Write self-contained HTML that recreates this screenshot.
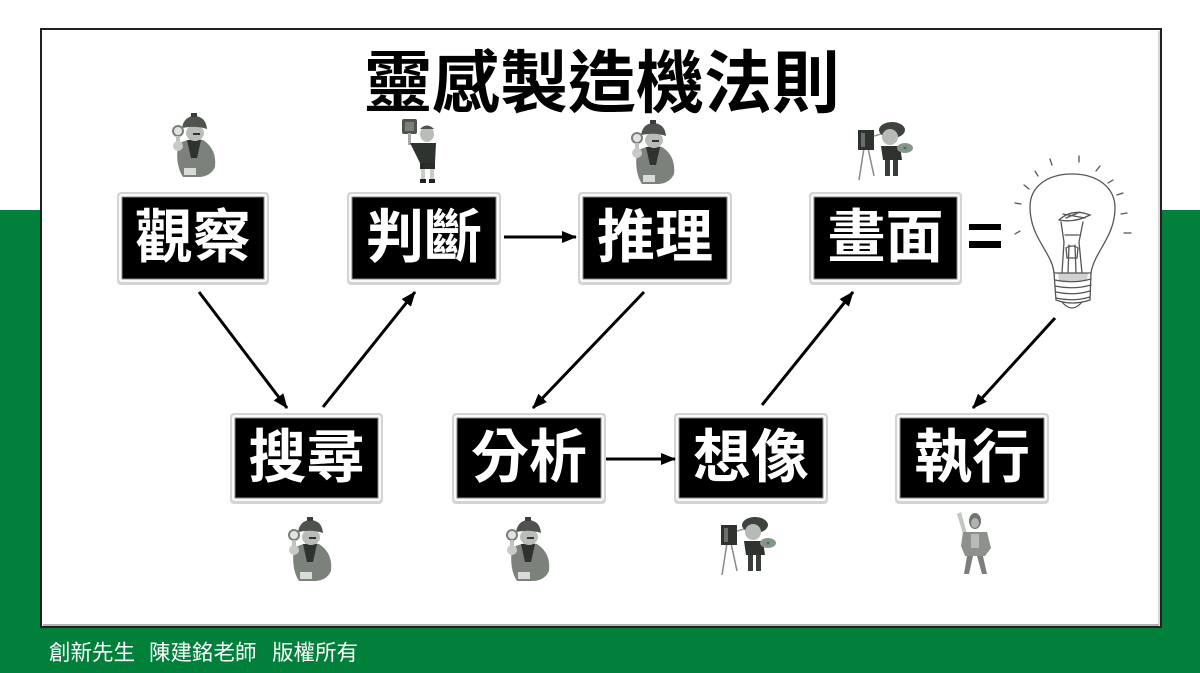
<!DOCTYPE html>
<html><head><meta charset="utf-8">
<style>
html,body{margin:0;padding:0;width:1200px;height:673px;overflow:hidden;background:#fff;}
svg{display:block;}
.cjk{font-family:"Liberation Sans","Noto Sans CJK TC","Noto Sans CJK SC",sans-serif;}
</style></head>
<body>
<svg width="1200" height="673" viewBox="0 0 1200 673" xmlns="http://www.w3.org/2000/svg">
<defs>
<marker id="ah" markerUnits="userSpaceOnUse" markerWidth="15" markerHeight="12" refX="14" refY="6" orient="auto">
<path d="M0,0 L15,6 L0,12 z" fill="#000"/>
</marker>
<g id="det">
  <path d="M8,31 Q20,24 33,27 Q47,36 45,54 Q41,63 30,64 L13,64 Q5,52 8,31z" fill="#7c817c"/>
  <path d="M17,27 L31,27 L27,45 L21,45z" fill="#2f332f"/>
  <ellipse cx="25" cy="20" rx="9" ry="8" fill="#b9bcb9"/>
  <path d="M12,15 Q14,3 25,3 Q36,4 37,16 Q26,12 12,15z" fill="#4e534e"/>
  <rect x="21" y="0" width="6" height="4" fill="#3a3e3a"/>
  <rect x="23" y="20" width="7" height="2" fill="#333"/>
  <circle cx="8" cy="18" r="5" fill="#e2e4e2" stroke="#7a7f7a" stroke-width="2"/>
  <rect x="6" y="23" width="4" height="10" fill="#bfc2bf"/>
  <ellipse cx="8" cy="33" rx="5" ry="5" fill="#c8cac8"/>
  <rect x="14" y="55" width="12" height="7" fill="#d9dbd9"/>
</g>
<g id="painter">
  <line x1="6" y1="28" x2="1" y2="60" stroke="#888" stroke-width="1.5"/>
  <line x1="10" y1="28" x2="16" y2="56" stroke="#888" stroke-width="1.5"/>
  <rect x="0" y="10" width="16" height="20" fill="#2f332f"/>
  <rect x="3" y="13" width="4" height="14" fill="#6a6f6a"/>
  <line x1="16" y1="16" x2="30" y2="12" stroke="#999" stroke-width="1.5"/>
  <ellipse cx="34" cy="10" rx="13" ry="8" fill="#3e433e"/>
  <ellipse cx="32" cy="17" rx="8" ry="8" fill="#b7bab7"/>
  <path d="M23,26 L42,26 L44,40 L25,40z" fill="#2f332f"/>
  <rect x="27" y="40" width="5" height="16" fill="#3a3e3a"/>
  <rect x="35" y="40" width="5" height="16" fill="#3a3e3a"/>
  <ellipse cx="47" cy="28" rx="8" ry="5" fill="#8c918c"/>
  <circle cx="47" cy="28" r="1.5" fill="#0a9a4a"/>
</g>
<g id="boy">
  <rect x="0" y="0" width="15" height="15" rx="2" fill="#4f544f"/>
  <rect x="3" y="3" width="9" height="9" fill="#7a7f7a"/>
  <rect x="6" y="14" width="3" height="12" fill="#aaa"/>
  <ellipse cx="25" cy="15" rx="7" ry="8" fill="#b9bcb9"/>
  <path d="M18,10 Q25,3 32,10z" fill="#4e534e"/>
  <path d="M8,24 L34,24 L33,44 L18,44z" fill="#2f332f"/>
  <rect x="18" y="44" width="15" height="6" fill="#2a2d2a"/>
  <rect x="19" y="50" width="4" height="12" fill="#c9cbc9"/>
  <rect x="28" y="50" width="4" height="12" fill="#c9cbc9"/>
  <rect x="18" y="60" width="6" height="4" fill="#222"/>
  <rect x="27" y="60" width="6" height="4" fill="#222"/>
</g>
<g id="warrior">
  <path d="M2,4 L6,2 L16,38 L13,40z" fill="#c3c6c3"/>
  <ellipse cx="20" cy="11" rx="6" ry="8" fill="#6e736e"/>
  <ellipse cx="20" cy="13" rx="4" ry="5" fill="#b0b3b0"/>
  <path d="M8,22 L32,22 L36,38 L30,46 L10,46 L6,36z" fill="#8c918c"/>
  <rect x="16" y="24" width="8" height="14" fill="#b8bbb8"/>
  <path d="M12,46 L18,46 L14,64 L9,64z" fill="#7a7f7a"/>
  <path d="M22,46 L28,46 L32,64 L27,64z" fill="#7a7f7a"/>
</g>
</defs>

<!-- background -->
<rect x="0" y="0" width="1200" height="673" fill="#fff"/>
<rect x="0" y="210" width="1200" height="463" fill="#00803b"/>

<!-- card -->
<rect x="41" y="29" width="1120" height="598" fill="#fff" stroke="#1e221e" stroke-width="2"/>
<line x1="43" y1="625" x2="1159" y2="625" stroke="#9a9a9a" stroke-width="1.5"/>
<line x1="1159" y1="31" x2="1159" y2="625" stroke="#b0b0b0" stroke-width="1"/>

<!-- title -->
<text class="cjk" x="602" y="107" font-size="68" font-weight="bold" text-anchor="middle" fill="#000">靈感製造機法則</text>

<!-- boxes -->
<g class="cjk" font-size="58" font-weight="bold" text-anchor="middle" fill="#fff">
  <g>
    <rect x="117" y="192" width="152" height="93" rx="4" fill="#d4d4d4"/>
    <rect x="119" y="194" width="148" height="88" rx="3" fill="#fafafa"/>
    <rect x="122" y="197" width="142" height="82" fill="#000" stroke="#888" stroke-width="1"/>
    <text x="193" y="257">觀察</text>
  </g>
  <g>
    <rect x="347" y="192" width="154" height="93" rx="4" fill="#d4d4d4"/>
    <rect x="349" y="194" width="150" height="88" rx="3" fill="#fafafa"/>
    <rect x="352" y="197" width="144" height="82" fill="#000" stroke="#888" stroke-width="1"/>
    <text x="424" y="257">判斷</text>
  </g>
  <g>
    <rect x="578" y="192" width="154" height="93" rx="4" fill="#d4d4d4"/>
    <rect x="580" y="194" width="150" height="88" rx="3" fill="#fafafa"/>
    <rect x="583" y="197" width="144" height="82" fill="#000" stroke="#888" stroke-width="1"/>
    <text x="655" y="257">推理</text>
  </g>
  <g>
    <rect x="809" y="192" width="153" height="93" rx="4" fill="#d4d4d4"/>
    <rect x="811" y="194" width="149" height="88" rx="3" fill="#fafafa"/>
    <rect x="814" y="197" width="143" height="82" fill="#000" stroke="#888" stroke-width="1"/>
    <text x="885.5" y="257">畫面</text>
  </g>
  <g>
    <rect x="230" y="413" width="153" height="91" rx="4" fill="#d4d4d4"/>
    <rect x="232" y="415" width="149" height="86" rx="3" fill="#fafafa"/>
    <rect x="235" y="418" width="143" height="80" fill="#000" stroke="#888" stroke-width="1"/>
    <text x="306.5" y="477">搜尋</text>
  </g>
  <g>
    <rect x="452" y="413" width="154" height="91" rx="4" fill="#d4d4d4"/>
    <rect x="454" y="415" width="150" height="86" rx="3" fill="#fafafa"/>
    <rect x="457" y="418" width="144" height="80" fill="#000" stroke="#888" stroke-width="1"/>
    <text x="529" y="477">分析</text>
  </g>
  <g>
    <rect x="674" y="413" width="154" height="91" rx="4" fill="#d4d4d4"/>
    <rect x="676" y="415" width="150" height="86" rx="3" fill="#fafafa"/>
    <rect x="679" y="418" width="144" height="80" fill="#000" stroke="#888" stroke-width="1"/>
    <text x="751" y="477">想像</text>
  </g>
  <g>
    <rect x="895" y="413" width="154" height="91" rx="4" fill="#d4d4d4"/>
    <rect x="897" y="415" width="150" height="86" rx="3" fill="#fafafa"/>
    <rect x="900" y="418" width="144" height="80" fill="#000" stroke="#888" stroke-width="1"/>
    <text x="972" y="477">執行</text>
  </g>
</g>

<!-- equals -->
<rect x="969" y="224" width="32" height="6" fill="#000"/>
<rect x="969" y="241" width="32" height="7" fill="#000"/>

<!-- arrows -->
<g stroke="#000" stroke-width="3" fill="none" marker-end="url(#ah)">
  <line x1="199" y1="292" x2="287" y2="408"/>
  <line x1="323" y1="407" x2="415" y2="292"/>
  <line x1="504" y1="237" x2="576" y2="237"/>
  <line x1="644" y1="292" x2="533" y2="408"/>
  <line x1="606" y1="459" x2="675" y2="459"/>
  <line x1="762" y1="405" x2="853" y2="292"/>
  <line x1="1055" y1="318" x2="973" y2="408"/>
</g>

<!-- bulb -->
<path d="M1058,273 L1088,273 L1087,281 L1059,281Z" fill="#cfd1cf"/>
<g stroke="#555" stroke-width="1.3" fill="none" stroke-linecap="round">
  <path d="M1054,273 C1052,252 1030,238 1030,207 C1030,186 1048,174 1072,174 C1097,174 1115,187 1115,208 C1115,237 1094,252 1091,273"/>
  <path d="M1054,273 L1091,273 L1090,300 Q1072,306 1056,300 Z"/>
  <path d="M1055,280 Q1073,284 1091,279 M1055,286 Q1073,290 1091,285 M1056,292 Q1073,296 1090,291 M1056,298 Q1073,302 1090,297"/>
  <path d="M1062,302 Q1072,314 1082,302"/>
  <path d="M1062,273 L1064,242 L1061,222 M1082,273 L1079,242 L1083,222 M1068,273 L1069,245 M1076,273 L1075,245 M1065,235 L1079,235"/>
  <path d="M1059,220 Q1072,208 1090,215 Q1075,223 1059,220"/>
  <path d="M1063,214 L1085,218 M1066,218 L1080,212"/>
  <path d="M1066,248 Q1072,244 1078,248 L1077,258 L1067,258 Z"/>
  <line x1="1050" y1="159" x2="1052" y2="165"/>
  <line x1="1079" y1="156" x2="1079" y2="162"/>
  <line x1="1100" y1="166" x2="1096" y2="171"/>
  <line x1="1113" y1="180" x2="1108" y2="183"/>
  <line x1="1123" y1="193" x2="1117" y2="195"/>
  <line x1="1127" y1="213" x2="1121" y2="214"/>
  <line x1="1131" y1="233" x2="1124" y2="233"/>
  <line x1="1035" y1="171" x2="1038" y2="176"/>
  <line x1="1024" y1="185" x2="1029" y2="189"/>
  <line x1="1015" y1="203" x2="1021" y2="204"/>
  <line x1="1015" y1="234" x2="1020" y2="231"/>
</g>

<!-- figures -->
<use href="#det" x="170" y="113"/>
<use href="#boy" x="402" y="119"/>
<use href="#det" x="629" y="120"/>
<use href="#painter" x="858" y="120"/>
<use href="#det" x="286" y="517"/>
<use href="#det" x="504" y="517"/>
<use href="#painter" x="721" y="515"/>
<use href="#warrior" x="955" y="510"/>

<!-- footer -->
<g class="cjk" font-size="21.5" fill="#fff">
  <text x="49" y="660">創新先生</text>
  <text x="149" y="660">陳建銘老師</text>
  <text x="272" y="660">版權所有</text>
</g>
</svg>
</body></html>
